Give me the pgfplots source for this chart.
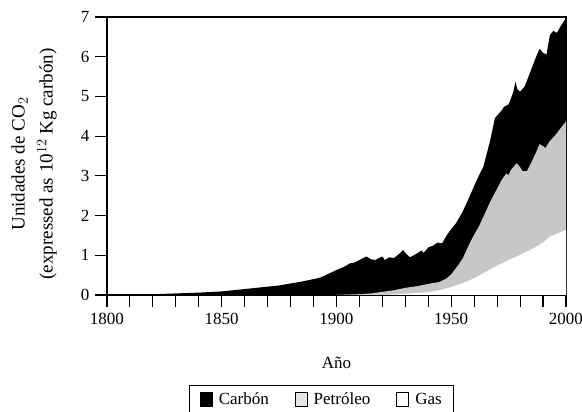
\documentclass[border=0pt]{standalone}
\usepackage{fontspec}
\setmainfont{Liberation Serif}
\usepackage{pgfplots}
\pgfplotsset{compat=1.18}
\begin{document}
\begin{tikzpicture}[x=1pt,y=1pt]
\begin{axis}[
  at={(0,0)}, anchor=south west,
  scale only axis, width=459pt, height=278pt,
  xmin=1800, xmax=2000, ymin=0, ymax=7,
  axis line style={line width=1.1pt},
  xtick={1800,1810,...,2000},
  xticklabels={1800,,,,,1850,,,,,1900,,,,,1950,,,,,2000},
  ytick={0,1,2,3,4,5,6,7},
  tick align=outside, xtick pos=bottom, ytick pos=left,
  major tick length=12pt,
  every tick/.style={black, line width=1.1pt},
  /pgf/number format/assume math mode=true,
  tick label style={font=\fontsize{17}{19}\selectfont},
  xticklabel style={yshift=-3pt},
  yticklabel style={xshift=-2pt},
  xlabel={Año},
  xlabel style={font=\fontsize{17}{19}\selectfont, at={([yshift=-68pt]axis description cs:0.5,0)}, anchor=center},
  ylabel={Unidades de CO$_2$\\[7pt](expressed as 10$^{12}$ Kg carbón)},
  ylabel style={font=\fontsize{19}{21}\selectfont, align=center, at={([xshift=-73pt,yshift=-8pt]axis description cs:0,0.5)}, anchor=center},
  legend style={at={([yshift=-90pt]axis description cs:0.468,0)}, anchor=north, legend columns=3,
    draw=black, line width=1pt, font=\fontsize{17}{19}\selectfont, inner xsep=10pt, inner ysep=5pt,
    /tikz/every odd column/.append style={column sep=4pt},
    /tikz/every even column/.append style={column sep=24pt}},
  legend image code/.code={\draw[#1, line width=0.9pt] (0pt,-7pt) rectangle (12pt,7pt);},
]
\addplot[fill=black, draw=none, forget plot] coordinates {
(1800,0.00) (1810,0.01) (1820,0.02) (1830,0.04) (1840,0.06) (1850,0.09) (1855,0.12) (1860,0.15) (1865,0.18) (1870,0.21) (1875,0.24) (1880,0.29) (1885,0.34) (1890,0.40) (1893,0.44) (1896,0.52) (1900,0.63) (1903,0.70) (1906,0.80) (1908,0.82) (1910,0.88) (1913,0.97) (1915,0.90) (1917,0.88) (1918,0.92) (1920,0.97) (1921,0.88) (1923,0.95) (1925,0.93) (1927,1.02) (1929,1.13) (1931,1.00) (1932,0.95) (1934,1.01) (1936,1.08) (1937,1.12) (1938,1.06) (1940,1.20) (1942,1.24) (1944,1.32) (1946,1.30) (1948,1.50) (1950,1.66) (1952,1.80) (1955,2.10) (1958,2.48) (1960,2.75) (1962,3.00) (1964,3.23) (1967,3.90) (1969,4.45) (1970,4.52) (1972,4.65) (1973,4.74) (1975,4.80) (1977,5.10) (1978,5.37) (1978.8,5.18) (1980,5.12) (1982,5.25) (1983,5.40) (1985,5.70) (1987,6.00) (1988.5,6.20) (1990,6.10) (1991.5,6.05) (1993,6.55) (1994.5,6.65) (1996,6.60) (1998,6.80) (2000,6.97)
} \closedcycle;
\addplot[fill=black!22, draw=none, forget plot] coordinates {
(1900,0.00) (1910,0.02) (1915,0.04) (1920,0.08) (1925,0.12) (1930,0.18) (1935,0.22) (1940,0.28) (1945,0.33) (1948,0.42) (1950,0.52) (1953,0.75) (1955,0.92) (1958,1.30) (1960,1.52) (1962,1.72) (1964,1.97) (1967,2.35) (1970,2.68) (1972,2.90) (1974,3.06) (1975,3.02) (1976,3.15) (1978.5,3.32) (1980,3.22) (1981,3.12) (1983,3.12) (1985,3.35) (1987,3.60) (1988.5,3.80) (1990,3.75) (1991,3.70) (1993,3.88) (1995,4.00) (1997,4.15) (2000,4.37)
} \closedcycle;
\addplot[fill=white, draw=none, forget plot] coordinates {
(1900,0.00) (1920,0.00) (1930,0.03) (1940,0.07) (1945,0.12) (1950,0.20) (1955,0.30) (1960,0.42) (1964,0.55) (1970,0.74) (1975,0.88) (1978.5,0.97) (1985,1.15) (1990,1.32) (1993,1.47) (2000,1.64)
} \closedcycle;
\addlegendimage{fill=black, draw=black}
\addlegendentry{Carbón}
\addlegendimage{fill=black!10, draw=black}
\addlegendentry{Petróleo}
\addlegendimage{fill=white, draw=black}
\addlegendentry{Gas}
\end{axis}
\pgfresetboundingbox
\useasboundingbox (-107,-117) rectangle (475,295);
\end{tikzpicture}
\end{document}
